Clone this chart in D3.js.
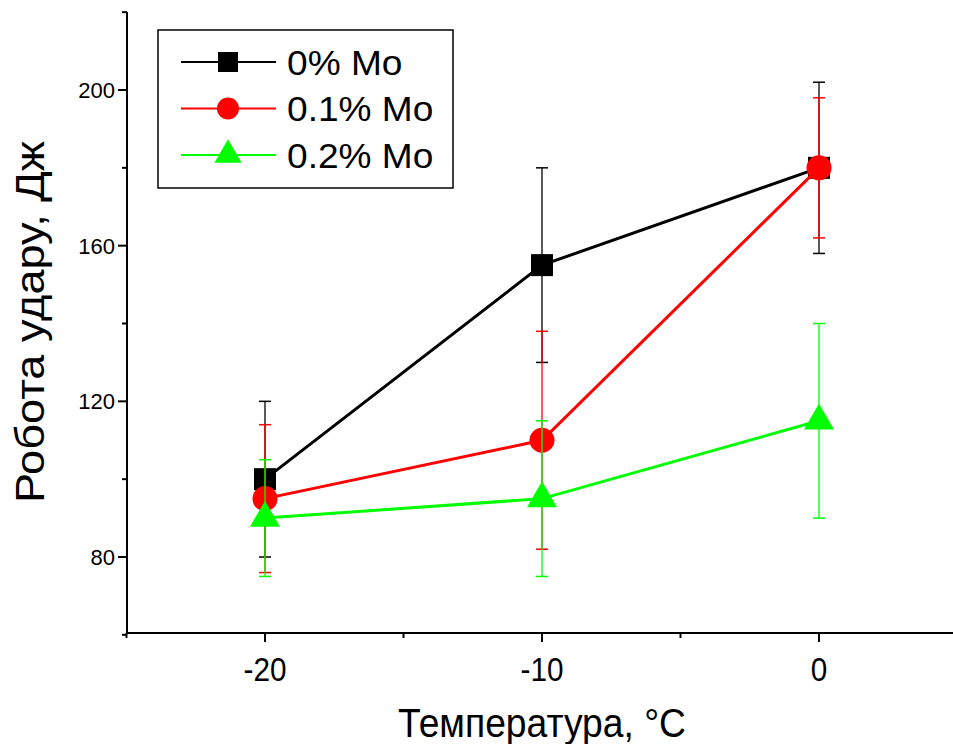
<!DOCTYPE html>
<html>
<head>
<meta charset="utf-8">
<script src="https://cdn.jsdelivr.net/npm/d3@7"></script>
<style>
  html, body { margin: 0; padding: 0; background: #fff; }
  svg { display: block; font-family: "Liberation Sans", Arial, sans-serif; }
</style>
</head>
<body>
<svg id="chart" width="953" height="744"></svg>
<script>
// ---- data ----
const temperatures = [-20, -10, 0];
const seriesNames = ["0% Mo", "0.1% Mo", "0.2% Mo"];
const mo0Values = [100, 155, 180];
const mo0Errors = [20, 25, 22];
const mo1Values = [95, 110, 180];
const mo1Errors = [19, 28, 18];
const mo2Values = [90, 95, 115];
const mo2Errors = [15, 20, 25];
const xMajorTicks = [-20, -10, 0];
const xMinorTicks = [-25, -15, -5, 5];
const yMajorTicks = [80, 120, 160, 200];
const yMinorTicks = [60, 100, 140, 180, 220];
const xTitle = "Температура, °C";
const yTitle = "Робота удару, Дж";

const seriesColors = ["#000000", "#ff0000", "#00ff00"];
const seriesSymbols = [d3.symbolSquare, d3.symbolCircle, d3.symbolTriangle];
const seriesSymbolSizes = [484, 491, 390];
const legendSymbolSizes = [400, 380, 320];

const series = seriesNames.map((name, i) => ({
  name,
  values: [mo0Values, mo1Values, mo2Values][i],
  errors: [mo0Errors, mo1Errors, mo2Errors][i],
  color: seriesColors[i],
  symbol: seriesSymbols[i],
  size: seriesSymbolSizes[i],
  legendSize: legendSymbolSizes[i]
}));

const svg = d3.select("#chart");

const x = d3.scaleLinear().domain([-25, 5]).range([126.5, 957.5]);
const y = d3.scaleLinear().domain([80, 200]).range([557, 90]);

const axisY0 = 633;
const axisX0 = 127;

// ---- axes ----
const gx = svg.append("g");
gx.append("line").attr("x1", axisX0 - 1).attr("x2", 953).attr("y1", axisY0).attr("y2", axisY0)
  .attr("stroke", "#000").attr("stroke-width", 2);
gx.selectAll(".xmaj").data(xMajorTicks).join("line")
  .attr("x1", d => x(d)).attr("x2", d => x(d)).attr("y1", axisY0).attr("y2", axisY0 + 9)
  .attr("stroke", "#000").attr("stroke-width", 2);
gx.selectAll(".xmin").data(xMinorTicks).join("line")
  .attr("x1", d => x(d)).attr("x2", d => x(d)).attr("y1", axisY0).attr("y2", axisY0 + 5)
  .attr("stroke", "#000").attr("stroke-width", 2);
gx.selectAll(".xlab").data(xMajorTicks).join("text")
  .attr("transform", d => `translate(${x(d)},681) scale(0.9,1)`)
  .attr("text-anchor", "middle")
  .attr("font-size", 33).text(d => d);

const gy = svg.append("g");
gy.append("line").attr("x1", axisX0).attr("x2", axisX0).attr("y1", 12).attr("y2", axisY0 + 1)
  .attr("stroke", "#000").attr("stroke-width", 2);
gy.selectAll(".ymaj").data(yMajorTicks).join("line")
  .attr("x1", axisX0 - 9).attr("x2", axisX0).attr("y1", d => y(d)).attr("y2", d => y(d))
  .attr("stroke", "#000").attr("stroke-width", 2);
gy.selectAll(".ymin").data(yMinorTicks).join("line")
  .attr("x1", axisX0 - 5).attr("x2", axisX0).attr("y1", d => y(d)).attr("y2", d => y(d))
  .attr("stroke", "#000").attr("stroke-width", 2);
gy.selectAll(".ylab").data(yMajorTicks).join("text")
  .attr("x", 115).attr("y", d => y(d) + 8).attr("text-anchor", "end")
  .attr("font-size", 22).text(d => d);

// titles
svg.append("text").attr("x", 542).attr("y", 737).attr("text-anchor", "middle")
  .attr("font-size", 40).attr("textLength", 288).attr("lengthAdjust", "spacingAndGlyphs")
  .text(xTitle);
svg.append("text").attr("transform", "translate(44,322) rotate(-90)")
  .attr("text-anchor", "middle").attr("font-size", 40)
  .attr("textLength", 362).attr("lengthAdjust", "spacingAndGlyphs").text(yTitle);

// ---- series ----
const line = d3.line().x((d, i) => x(temperatures[i])).y(d => y(d));
series.forEach(s => {
  const g = svg.append("g");
  // error bars
  const eb = g.selectAll(".eb").data(s.values.map((v, i) => ({ t: temperatures[i], v, e: s.errors[i] }))).join("g");
  eb.append("line").attr("x1", d => x(d.t)).attr("x2", d => x(d.t))
    .attr("y1", d => y(d.v + d.e)).attr("y2", d => y(d.v - d.e))
    .attr("stroke", s.color).attr("stroke-width", 1.3);
  [1, -1].forEach(sg => {
    eb.append("line").attr("x1", d => x(d.t) - 6).attr("x2", d => x(d.t) + 6)
      .attr("y1", d => y(d.v + sg * d.e)).attr("y2", d => y(d.v + sg * d.e))
      .attr("stroke", s.color).attr("stroke-width", 1.5);
  });
  g.append("path").datum(s.values).attr("d", line)
    .attr("fill", "none").attr("stroke", s.color).attr("stroke-width", 3);
  g.selectAll(".pt").data(s.values).join("path")
    .attr("transform", (d, i) => `translate(${x(temperatures[i])},${y(d)})`)
    .attr("d", d3.symbol().type(s.symbol).size(s.size))
    .attr("fill", s.color);
});

// ---- legend ----
const lg = svg.append("g");
lg.append("rect").attr("x", 158).attr("y", 30).attr("width", 295).attr("height", 158)
  .attr("fill", "#fff").attr("stroke", "#000").attr("stroke-width", 1.5);
const rowY = [62, 108.5, 155];
series.forEach((s, i) => {
  lg.append("line").attr("x1", 181).attr("x2", 276).attr("y1", rowY[i]).attr("y2", rowY[i])
    .attr("stroke", s.color).attr("stroke-width", 2);
  lg.append("path").attr("transform", `translate(228,${rowY[i]})`)
    .attr("d", d3.symbol().type(s.symbol).size(s.legendSize)).attr("fill", s.color);
  const t = lg.append("text").attr("x", 287).attr("y", rowY[i] + 12.5).attr("font-size", 35).text(s.name);
  const w = t.node().getComputedTextLength();
  t.attr("textLength", w * 1.06).attr("lengthAdjust", "spacingAndGlyphs");
});
</script>
</body>
</html>
